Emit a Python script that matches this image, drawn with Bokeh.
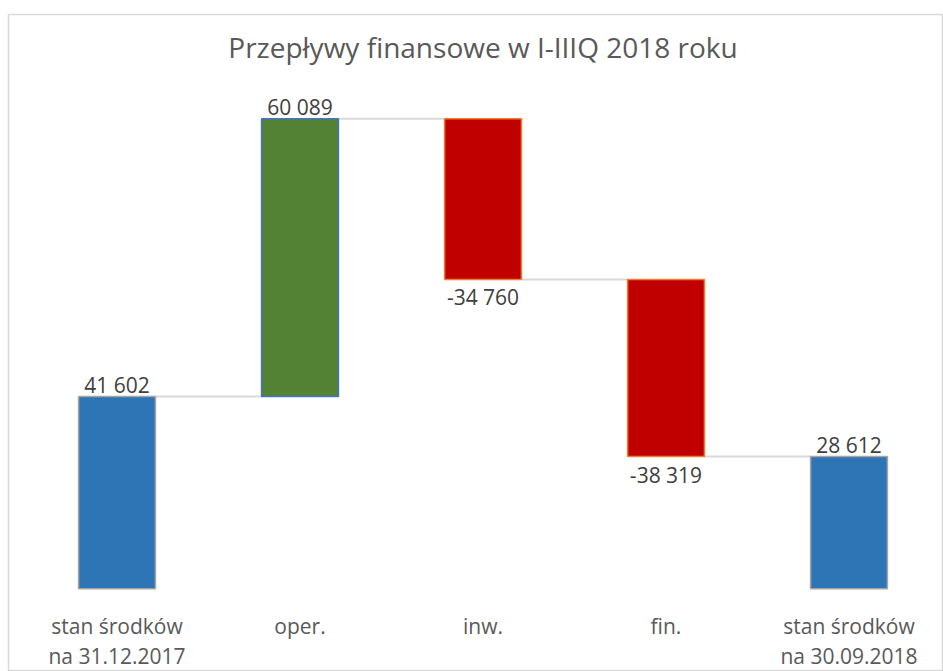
from bokeh.plotting import figure
from bokeh.models import ColumnDataSource, Range1d
from bokeh.core.properties import value
from bokeh.embed import file_html
from bokeh.resources import INLINE

title_text = "Przepływy finansowe w I-IIIQ 2018 roku"
categories = ["stan środków\nna 31.12.2017", "oper.", "inw.", "fin.", "stan środków\nna 30.09.2018"]
amounts = [41602, 60089, -34760, -38319, 28612]
kinds = ["total", "delta", "delta", "delta", "total"]

fills = {"total": "#2e75b6", "up": "#548235", "down": "#c00000"}
lines = {"total": "#a5a5a5", "up": "#4472c4", "down": "#ed7d31"}

# waterfall geometry
xs, bottoms, tops, fill_c, line_c, lab_txt, lab_y, lab_off = [], [], [], [], [], [], [], []
levels = []
running = 0
for i, (amt, kind) in enumerate(zip(amounts, kinds)):
    if kind == "total":
        b, t = 0, amt
        running = amt
        key = "total"
    else:
        b, t = sorted([running, running + amt])
        running += amt
        key = "up" if amt >= 0 else "down"
    levels.append(running)
    xs.append(i)
    bottoms.append(b)
    tops.append(t)
    fill_c.append(fills[key])
    line_c.append(lines[key])
    lab_txt.append(f"{amt:,}".replace(",", " "))
    if amt >= 0:
        lab_y.append(t)
        lab_off.append(-12)
    else:
        lab_y.append(b)
        lab_off.append(18)

bar_w = 0.42
bars = ColumnDataSource(dict(x=xs, bottom=bottoms, top=tops, fill=fill_c, line=line_c))
labels = ColumnDataSource(dict(x=xs, y=lab_y, text=lab_txt, off=lab_off))
conn = ColumnDataSource(dict(
    x0=[i + bar_w / 2 for i in xs[:-1]],
    x1=[i + 1 - bar_w / 2 for i in xs[:-1]],
    y=levels[:-1],
))

line1 = [c.split("\n")[0] for c in categories]
line2 = [c.split("\n")[1] if "\n" in c else "" for c in categories]
cats = ColumnDataSource(dict(x=xs, y=[0] * len(xs), l1=line1, l2=line2))

p = figure(width=943, height=671, output_backend="svg", toolbar_location=None,
           x_range=Range1d(-0.5929, 4.5164), y_range=Range1d(-17892, 124254),
           min_border_left=8, min_border_top=14, min_border_right=0, min_border_bottom=0)
p.axis.visible = False
p.grid.visible = False
p.outline_line_color = "#d9d9d9"
p.outline_line_width = 1.5
p.background_fill_color = "white"
p.border_fill_color = "white"

p.segment(x0="x0", y0="y", x1="x1", y1="y", source=conn, line_color="#d9d9d9", line_width=2)
p.vbar(x="x", bottom="bottom", top="top", width=bar_w, source=bars,
       fill_color="fill", line_color="line", line_width=1.5)

p.text(x="x", y="y", text="text", y_offset="off", source=labels,
       text_font=value("Open Sans"), text_font_size="21px", text_color="#404040",
       text_align="center", text_baseline="alphabetic")

p.text(x="x", y="y", text="l1", source=cats, y_offset=37,
       text_font=value("Open Sans"), text_font_size="21px", text_color="#595959",
       text_align="center", text_baseline="alphabetic")
p.text(x="x", y="y", text="l2", source=cats, y_offset=67,
       text_font=value("Open Sans"), text_font_size="21px", text_color="#595959",
       text_align="center", text_baseline="alphabetic")

p.text(x=[2], y=[124254], text=[title_text], y_offset=32,
       text_font=value("Open Sans"), text_font_size="28px", text_color="#595959",
       text_align="center", text_baseline="alphabetic")

open("out.html", "w").write(file_html(p, INLINE))
